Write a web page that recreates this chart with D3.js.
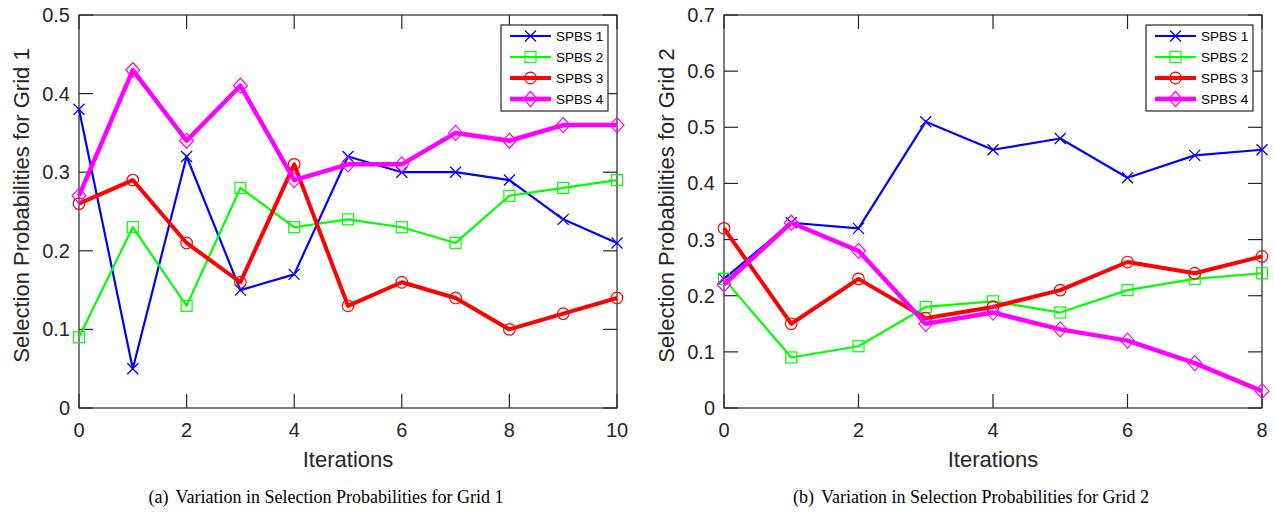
<!DOCTYPE html>
<html>
<head>
<meta charset="utf-8">
<script src="https://cdn.jsdelivr.net/npm/d3@7"></script>
<style>
  body { margin: 0; background: #fff; }
  svg { display: block; }
  .tick-label { font-family: "Liberation Sans", Arial, sans-serif; font-size: 20px; fill: #262626; }
  .axis-title { font-family: "Liberation Sans", Arial, sans-serif; font-size: 22px; fill: #262626; }
  .legend-text { font-family: "Liberation Sans", Arial, sans-serif; font-size: 13.5px; fill: #000; }
  .caption { font-family: "Liberation Serif", "Times New Roman", serif; font-size: 18px; fill: #000; }
</style>
</head>
<body>
<svg id="chart"></svg>
<script>
'use strict'

const width = 1274, height = 512

// series names (legend order)
const seriesNames = ['SPBS 1', 'SPBS 2', 'SPBS 3', 'SPBS 4']

// Grid 1: iterations 0..10
const grid1Iter = [0, 1, 2, 3, 4, 5, 6, 7, 8, 9, 10]
const grid1Spbs1 = [0.38, 0.05, 0.32, 0.15, 0.17, 0.32, 0.30, 0.30, 0.29, 0.24, 0.21]
const grid1Spbs2 = [0.09, 0.23, 0.13, 0.28, 0.23, 0.24, 0.23, 0.21, 0.27, 0.28, 0.29]
const grid1Spbs3 = [0.26, 0.29, 0.21, 0.16, 0.31, 0.13, 0.16, 0.14, 0.10, 0.12, 0.14]
const grid1Spbs4 = [0.27, 0.43, 0.34, 0.41, 0.29, 0.31, 0.31, 0.35, 0.34, 0.36, 0.36]

// Grid 2: iterations 0..8
const grid2Iter = [0, 1, 2, 3, 4, 5, 6, 7, 8]
const grid2Spbs1 = [0.23, 0.33, 0.32, 0.51, 0.46, 0.48, 0.41, 0.45, 0.46]
const grid2Spbs2 = [0.23, 0.09, 0.11, 0.18, 0.19, 0.17, 0.21, 0.23, 0.24]
const grid2Spbs3 = [0.32, 0.15, 0.23, 0.16, 0.18, 0.21, 0.26, 0.24, 0.27]
const grid2Spbs4 = [0.22, 0.33, 0.28, 0.15, 0.17, 0.14, 0.12, 0.08, 0.03]

// tick values
const grid1XTicks = [0, 2, 4, 6, 8, 10]
const grid1YTicks = [0, 0.1, 0.2, 0.3, 0.4, 0.5]
const grid2XTicks = [0, 2, 4, 6, 8]
const grid2YTicks = [0, 0.1, 0.2, 0.3, 0.4, 0.5, 0.6, 0.7]

const styles = [
  { color: '#0000ff', width: 2.2, marker: 'x' },
  { color: '#00ff00', width: 2.2, marker: 'square' },
  { color: '#ff0000', width: 4, marker: 'circle' },
  { color: '#ff00ff', width: 4.5, marker: 'diamond' }
]

const axisColor = '#262626'

const svg = d3.select('#chart').attr('width', width).attr('height', height)

function drawMarker(g, type, x, y, color) {
  if (type === 'x') {
    const s = 5.5
    g.append('path')
      .attr('d', `M${x - s},${y - s}L${x + s},${y + s}M${x - s},${y + s}L${x + s},${y - s}`)
      .attr('stroke', color).attr('stroke-width', 1.3).attr('fill', 'none')
  } else if (type === 'square') {
    const s = 5.5
    g.append('rect').attr('x', x - s).attr('y', y - s).attr('width', 2 * s).attr('height', 2 * s)
      .attr('stroke', color).attr('stroke-width', 1.2).attr('fill', 'none')
  } else if (type === 'circle') {
    g.append('circle').attr('cx', x).attr('cy', y).attr('r', 5.8)
      .attr('stroke', color).attr('stroke-width', 1.2).attr('fill', 'none')
  } else {
    const w = 7, h = 7.5
    g.append('path')
      .attr('d', `M${x},${y - h}L${x + w},${y}L${x},${y + h}L${x - w},${y}Z`)
      .attr('stroke', color).attr('stroke-width', 1.2).attr('fill', 'none')
  }
}

function drawPanel(opts) {
  const { left, right, top, bottom, iters, series, xMax, yMax, xTicks, yTicks, yTitle, caption, captionX } = opts
  const g = svg.append('g')

  const x = d3.scaleLinear().domain([0, xMax]).range([left, right])
  const y = d3.scaleLinear().domain([0, yMax]).range([bottom, top])
  const tickLen = 14

  // ticks (inward, mirrored on all sides)
  yTicks.forEach(t => {
    g.append('line').attr('x1', left).attr('x2', left + tickLen).attr('y1', y(t)).attr('y2', y(t))
      .attr('stroke', axisColor).attr('stroke-width', 1.2)
    g.append('line').attr('x1', right).attr('x2', right - tickLen).attr('y1', y(t)).attr('y2', y(t))
      .attr('stroke', axisColor).attr('stroke-width', 1.2)
    g.append('text').attr('class', 'tick-label')
      .attr('x', left - 9).attr('y', y(t)).attr('dy', '0.35em')
      .attr('text-anchor', 'end').text(d3.format('')(t))
  })
  xTicks.forEach(t => {
    g.append('line').attr('x1', x(t)).attr('x2', x(t)).attr('y1', bottom).attr('y2', bottom - tickLen)
      .attr('stroke', axisColor).attr('stroke-width', 1.2)
    g.append('line').attr('x1', x(t)).attr('x2', x(t)).attr('y1', top).attr('y2', top + tickLen)
      .attr('stroke', axisColor).attr('stroke-width', 1.2)
    g.append('text').attr('class', 'tick-label')
      .attr('x', x(t)).attr('y', bottom + 29)
      .attr('text-anchor', 'middle').text(t)
  })

  // frame
  g.append('rect').attr('x', left).attr('y', top).attr('width', right - left).attr('height', bottom - top)
    .attr('fill', 'none').attr('stroke', axisColor).attr('stroke-width', 1.2)

  // series
  const line = d3.line().x(d => x(d[0])).y(d => y(d[1]))
  series.forEach((vals, i) => {
    const st = styles[i]
    const pts = iters.map((it, j) => [it, vals[j]])
    const sg = g.append('g')
    sg.append('path').datum(pts).attr('d', line)
      .attr('fill', 'none').attr('stroke', st.color).attr('stroke-width', st.width)
      .attr('stroke-linejoin', 'round')
    pts.forEach(p => drawMarker(sg, st.marker, x(p[0]), y(p[1]), st.color))
  })

  // legend
  const lx = right - 116, ly = top + 10, lw = 107, lh = 86
  const lg = g.append('g')
  lg.append('rect').attr('x', lx).attr('y', ly).attr('width', lw).attr('height', lh)
    .attr('fill', '#fff').attr('stroke', axisColor).attr('stroke-width', 1.2)
  seriesNames.forEach((name, i) => {
    const st = styles[i]
    const yy = ly + 11 + i * 21
    lg.append('line').attr('x1', lx + 9).attr('x2', lx + 50).attr('y1', yy).attr('y2', yy)
      .attr('stroke', st.color).attr('stroke-width', st.width)
    drawMarker(lg, st.marker, lx + 29.5, yy, st.color)
    lg.append('text').attr('class', 'legend-text')
      .attr('x', lx + 55).attr('y', yy).attr('dy', '0.35em').text(name)
  })

  // axis titles
  g.append('text').attr('class', 'axis-title')
    .attr('x', (left + right) / 2).attr('y', bottom + 59)
    .attr('text-anchor', 'middle').text('Iterations')
  g.append('text').attr('class', 'axis-title')
    .attr('transform', `translate(${left - 58},${(top + bottom) / 2 - 6}) rotate(-90)`)
    .attr('text-anchor', 'middle').attr('dy', '0.35em').text(yTitle)

  // caption
  const cap = g.append('text').attr('class', 'caption')
    .attr('x', captionX).attr('y', 503).attr('text-anchor', 'middle')
  cap.append('tspan').text(caption[0])
  cap.append('tspan').attr('dx', 7).text(caption[1])
}

drawPanel({
  left: 79, right: 617, top: 15, bottom: 408,
  iters: grid1Iter,
  series: [grid1Spbs1, grid1Spbs2, grid1Spbs3, grid1Spbs4],
  xMax: 10, yMax: 0.5, xTicks: grid1XTicks, yTicks: grid1YTicks,
  yTitle: 'Selection Probabilities for Grid 1',
  caption: ['(a)', 'Variation in Selection Probabilities for Grid 1'],
  captionX: 326
})

drawPanel({
  left: 724, right: 1262, top: 15, bottom: 408,
  iters: grid2Iter,
  series: [grid2Spbs1, grid2Spbs2, grid2Spbs3, grid2Spbs4],
  xMax: 8, yMax: 0.7, xTicks: grid2XTicks, yTicks: grid2YTicks,
  yTitle: 'Selection Probabilities for Grid 2',
  caption: ['(b)', 'Variation in Selection Probabilities for Grid 2'],
  captionX: 971
})
</script>
</body>
</html>
